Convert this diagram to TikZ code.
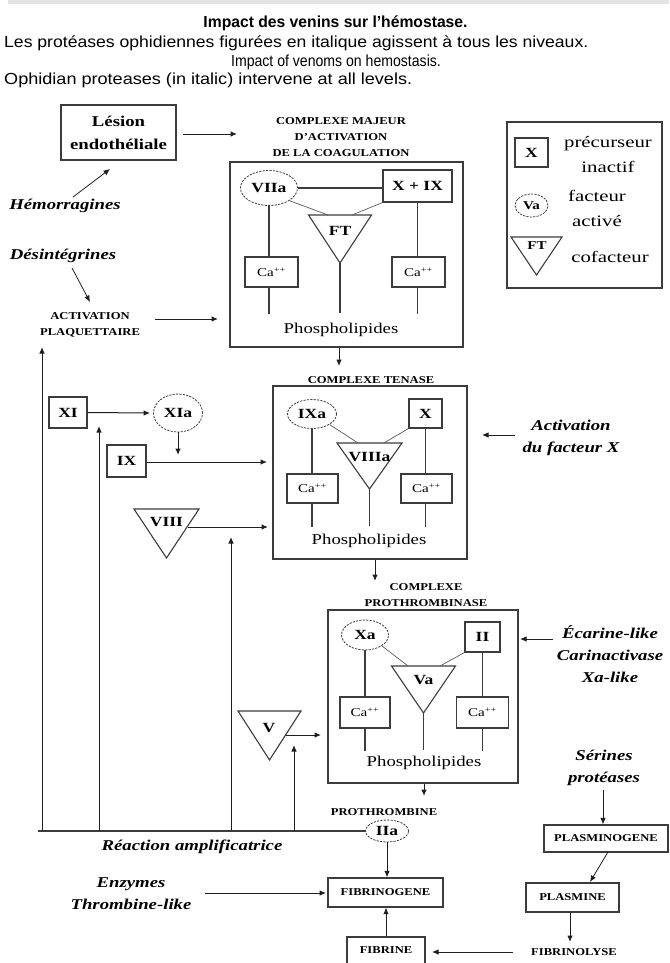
\documentclass[tikz,border=0pt]{standalone}
\usepackage{fontspec}
\setmainfont{Liberation Serif}
\newfontfamily\hsans{Liberation Sans}
\usetikzlibrary{arrows.meta,shapes.geometric}
\definecolor{ln}{RGB}{60,60,60}
\definecolor{barg}{RGB}{228,228,228}
\newcommand\wideA[1]{\scalebox{1.25}[1]{#1}}
\newcommand\wideC[1]{\scalebox{1.2}[1]{#1}}
\newcommand\wideL[1]{\scalebox{1.3}[1]{#1}}
\newcommand\drawtri[5]{%
  \coordinate (#1-tl) at ({#2-#4},#3);
  \coordinate (#1-tr) at ({#2+#4},#3);
  \coordinate (#1-ap) at (#2,{#3+#5});
  \draw[line] (#1-tl) -- (#1-tr) -- (#1-ap) -- cycle;}
\begin{document}
\begin{tikzpicture}[x=1pt,y=-1pt,
  line/.style={draw=ln, line width=1.1pt},
  thinl/.style={draw=ln!85, line width=0.7pt},
  arr/.style={draw=ln!50!black, line width=1pt, -{Latex[length=6.5pt,width=5.5pt]}},
  box/.style={draw=ln, line width=1.1pt, inner sep=0pt},
  ell/.style={ellipse, draw=ln, line width=0.8pt, dash pattern=on 2.2pt off 1.2pt, inner sep=0pt},
  bl/.style={font=\bfseries\fontsize{14}{14}\selectfont},
  ca/.style={font=\fontsize{12}{12}\selectfont},
  capl/.style={font=\bfseries\fontsize{10.5}{16}\selectfont, align=center, inner sep=0pt},
  ital/.style={font=\bfseries\itshape\fontsize{15}{22}\selectfont, align=center, inner sep=0pt},
  phos/.style={font=\fontsize{15}{15}\selectfont, inner sep=0pt},
  legt/.style={font=\fontsize{16}{25}\selectfont, align=center, inner sep=0pt},
  hdr/.style={font=\hsans\fontsize{16}{16}\selectfont, inner sep=0pt}
]
\useasboundingbox (0,0) rectangle (669,963);
\fill[barg] (8,0) rectangle (669,4);

% header
\node[hdr, font=\hsans\bfseries\fontsize{16}{16}\selectfont] (t1) at (335.5,23) {\scalebox{0.98}[1]{Impact des venins sur l’hémostase.}};
\node[hdr, anchor=west] (t2) at (4,43) {\scalebox{1.1}[1]{Les protéases ophidiennes figurées en italique agissent à tous les niveaux.}};
\node[hdr] (t3) at (336,62) {\scalebox{0.88}[1]{Impact of venoms on hemostasis.}};
\node[hdr, anchor=west] (t4) at (4,80) {\scalebox{1.13}[1]{Ophidian proteases (in italic) intervene at all levels.}};

% top-left
\node[box, minimum width=115, minimum height=55, align=center, font=\bfseries\fontsize{15}{23}\selectfont] (les) at (118.5,132.5) {\wideA{Lésion}\\\wideA{endothéliale}};
\node[capl] (cmt) at (341,137) {\wideC{COMPLEXE MAJEUR}\\\wideC{D’ACTIVATION}\\\wideC{DE LA COAGULATION}};
\coordinate (a1s) at (183,134); \coordinate (a1e) at (237,134);
\draw[arr] (a1s) -- (a1e);

\node[ital] (hem) at (65,206) {\wideA{Hémorragines}};
\coordinate (hems) at (73,197); \coordinate (hemt) at (110,169);
\draw[arr, line width=0.8pt] (hems) -- (hemt);
\node[ital] (des) at (63,256) {\wideA{Désintégrines}};
\coordinate (dess) at (72,268); \coordinate (dest) at (90,302);
\draw[arr, line width=0.8pt] (dess) -- (dest);
\node[capl] (ap) at (90,324.5) {\wideC{ACTIVATION}\\\wideC{PLAQUETTAIRE}};
\coordinate (aps) at (155,319); \coordinate (apt) at (218,319);
\draw[arr] (aps) -- (apt);

% complex 1
\node[box, minimum width=233, minimum height=185] (c1) at (346.5,254.5) {};
\node[ell, minimum width=57, minimum height=35, bl] (viia) at (269,188) {\wideA{VIIa}};
\node[box, minimum width=69, minimum height=32, bl] (xix) at (417.5,186) {\wideA{X + IX}};
\draw[line] (viia.east) -- (viia.east -| xix.west);
\drawtri{ft}{340}{215}{31.5}{48}
\node[bl] (ftl) at (340,231) {\wideA{FT}};
\coordinate (ftA) at (328,215); \coordinate (ftB) at (352,215);
\draw[thinl] (viia.south east) -- (ftA);
\draw[thinl] (xix.south west) -- (ftB);
\node[box, minimum width=53, minimum height=30, ca] (ca1a) at (271.5,272) {\wideA{Ca\textsuperscript{++}}};
\node[box, minimum width=53, minimum height=30, ca] (ca1b) at (418.5,272) {\wideA{Ca\textsuperscript{++}}};
\draw[line] (viia.south) -- (viia.south |- ca1a.north);
\draw[line] (viia.south |- ca1a.south) -- ++(0,26);
\draw[line] (xix.south) -- (xix.south |- ca1b.north);
\draw[line] (xix.south |- ca1b.south) -- ++(0,26);
\draw[line] (ft-ap) -- ++(0,50);
\node[phos] (ph1) at (341,330) {\wideA{Phospholipides}};

% complex 1 -> 2
\coordinate (a12e) at (339,366);
\draw[arr] (c1.south -| a12e) -- (a12e);
\node[capl] (tenl) at (371,380) {\wideC{COMPLEXE TENASE}};

% complex 2
\node[box, minimum width=194, minimum height=173] (c2) at (370,472.5) {};
\node[ell, minimum width=49, minimum height=29, bl] (ixa) at (312,414) {\wideA{IXa}};
\node[box, minimum width=33, minimum height=29, bl] (x2) at (425.5,413.5) {\wideA{X}};
\drawtri{viii}{369.5}{443}{32.5}{46}
\node[bl] (viiial) at (369.5,457) {\wideA{VIIIa}};
\coordinate (v8A) at (358,443); \coordinate (v8B) at (384,443);
\draw[thinl] (ixa.south east) -- (v8A);
\draw[thinl] (x2.south west) -- (v8B);
\node[box, minimum width=51, minimum height=29, ca] (ca2a) at (312.5,488.5) {\wideA{Ca\textsuperscript{++}}};
\node[box, minimum width=51, minimum height=29, ca] (ca2b) at (426.5,488.5) {\wideA{Ca\textsuperscript{++}}};
\draw[line] (ixa.south) -- (ixa.south |- ca2a.north);
\draw[line] (ixa.south |- ca2a.south) -- ++(0,23);
\draw[line] (x2.south) -- (x2.south |- ca2b.north);
\draw[line] (x2.south |- ca2b.south) -- ++(0,23);
\draw[line] (viii-ap) -- ++(0,37);
\node[phos] (ph2) at (369,541) {\wideA{Phospholipides}};

\node[ital] (actx) at (571,437.5) {\wideA{Activation}\\\wideA{du facteur X}};
\coordinate (axs) at (515,435); \coordinate (axt) at (482,435);
\draw[arr] (axs) -- (axt);

% complex 2 -> 3
\coordinate (a23e) at (375,581);
\draw[arr] (c2.south -| a23e) -- (a23e);
\node[capl] (prl) at (426,595) {\wideC{COMPLEXE}\\\wideC{PROTHROMBINASE}};

% complex 3
\node[box, minimum width=190, minimum height=173] (c3) at (423,696.5) {};
\node[ell, minimum width=47, minimum height=30, bl] (xa) at (365,635) {\wideA{Xa}};
\node[box, minimum width=35, minimum height=30, bl] (ii) at (482.5,637) {\wideA{II}};
\drawtri{va}{423.5}{666}{32}{47}
\node[bl] (val) at (423.5,680) {\wideA{Va}};
\coordinate (vaA) at (408,666); \coordinate (vaB) at (440,666);
\draw[thinl] (xa.south east) -- (vaA);
\draw[thinl] (ii.south west) -- (vaB);
\node[box, minimum width=50, minimum height=31, ca] (ca3a) at (365,712.5) {\wideA{Ca\textsuperscript{++}}};
\node[box, minimum width=52, minimum height=31, ca] (ca3b) at (482.5,712.5) {\wideA{Ca\textsuperscript{++}}};
\draw[line] (xa.south) -- (xa.south |- ca3a.north);
\draw[line] (xa.south |- ca3a.south) -- ++(0,22);
\draw[line] (ii.south) -- (ii.south |- ca3b.north);
\draw[line] (ii.south |- ca3b.south) -- ++(0,22);
\draw[line] (va-ap) -- ++(0,37);
\node[phos] (ph3) at (424,763) {\wideA{Phospholipides}};

\node[ital] (ecar) at (610,654.5) {\wideA{Écarine-like}\\\wideA{Carinactivase}\\\wideA{Xa-like}};
\coordinate (ecs) at (553,639); \coordinate (ect) at (520,639);
\draw[arr] (ecs) -- (ect);

% left side cascade
\node[box, minimum width=38, minimum height=31, bl] (xi) at (68,412.5) {\wideA{XI}};
\node[ell, minimum width=49, minimum height=38, bl] (xia) at (178,413) {\wideA{XIa}};
\draw[arr] (xi.east) -- ([xshift=-3pt]xia.west);
\node[box, minimum width=39, minimum height=32, bl] (ix) at (126.5,461) {\wideA{IX}};
\coordinate (xiat) at (178,455);
\draw[arr] (xia.south) -- (xiat);
\coordinate (ixt) at (267,462);
\draw[arr] (ix.east |- ixt) -- (ixt);

\drawtri{v8}{166.5}{509}{32.5}{49}
\node[bl] (v8l) at (166.5,522) {\wideA{VIII}};
\coordinate (v8s) at (188,527); \coordinate (v8t) at (268,527);
\draw[arr] (v8s) -- (v8t);

\drawtri{v5}{269.5}{711}{31.5}{49}
\node[bl] (v5l) at (269,728) {\wideA{V}};
\coordinate (v5s) at (286,735); \coordinate (v5t) at (321,735);
\draw[arr] (v5s) -- (v5t);

% prothrombine / IIa
\coordinate (a3e) at (424,796);
\draw[arr] (c3.south -| a3e) -- (a3e);
\node[capl] (prot) at (384,812) {\wideC{PROTHROMBINE}};
\node[ell, minimum width=43, minimum height=22, bl] (iia) at (387,831) {\wideA{IIa}};
\coordinate (hl) at (38,831);
\draw[line] (hl) -- (iia.west);
\node[ital] (reac) at (192,847) {\wideA{Réaction amplificatrice}};

\coordinate (f1b) at (42,831); \coordinate (f1t) at (42,347);
\coordinate (f2b) at (99,831); \coordinate (f2t) at (99,426);
\coordinate (f3b) at (231,831); \coordinate (f3t) at (231,537);
\coordinate (f4b) at (294,831); \coordinate (f4t) at (294,745);
\draw[arr] (f1b) -- (f1t);
\draw[arr] (f2b) -- (f2t);
\draw[arr] (f3b) -- (f3t);
\draw[arr] (f4b) -- (f4t);

% bottom
\node[box, minimum width=115, minimum height=29, capl] (fgn) at (385.5,892.5) {\wideC{FIBRINOGENE}};
\draw[arr] (iia.south) -- (iia.south |- fgn.north);
\node[ital] (enz) at (131,894) {\wideA{Enzymes}\\\wideA{Thrombine-like}};
\coordinate (enzs) at (205,893); \coordinate (enzt) at (326,893);
\draw[arr] (enzs) -- (enzt);
\node[box, minimum width=78, minimum height=27, capl] (fib) at (386,950.5) {\wideC{FIBRINE}};
\draw[arr] (fib.north) -- (fib.north |- fgn.south);
\node[capl] (flys) at (574,952) {\wideC{FIBRINOLYSE}};
\coordinate (flyss) at (513,952); \coordinate (flyst) at (432,952);
\draw[arr] (flyss) -- (flyst);
\node[box, minimum width=93, minimum height=29, capl] (plm) at (572.5,897.5) {\wideC{PLASMINE}};
\coordinate (plmt) at (570,942);
\draw[arr] (plm.south -| plmt) -- (plmt);
\node[box, minimum width=124, minimum height=27, capl] (plg) at (606,838.5) {\wideC{PLASMINOGENE}};
\node[ital] (ser) at (604,768) {\wideA{Sérines}\\\wideA{protéases}};
\coordinate (sers) at (603,790);
\draw[arr] (sers) -- (sers |- plg.north);
\coordinate (pgs) at (608,852); \coordinate (pgt) at (590,882);
\draw[arr, line width=0.8pt] (pgs) -- (pgt);

% legend
\node[box, minimum width=155, minimum height=166] (leg) at (584.5,205) {};
\node[box, minimum width=33, minimum height=29, bl] (lgx) at (531.5,152.5) {\wideA{X}};
\node[legt] (lgxt) at (608,155) {\wideL{précurseur}\\\wideL{inactif}};
\node[ell, minimum width=33, minimum height=23, font=\bfseries\fontsize{12}{12}\selectfont] (lgva) at (531.5,205.5) {\wideA{Va}};
\node[legt] (lgvat) at (597,208.5) {\wideL{facteur}\\\wideL{activé}};
\drawtri{lgft}{536.5}{237}{25.5}{38}
\node[font=\bfseries\fontsize{12}{12}\selectfont] (lgftl) at (537,246) {\wideA{FT}};
\node[legt] (lgftt) at (610,257) {\wideL{cofacteur}};
\end{tikzpicture}
\end{document}
